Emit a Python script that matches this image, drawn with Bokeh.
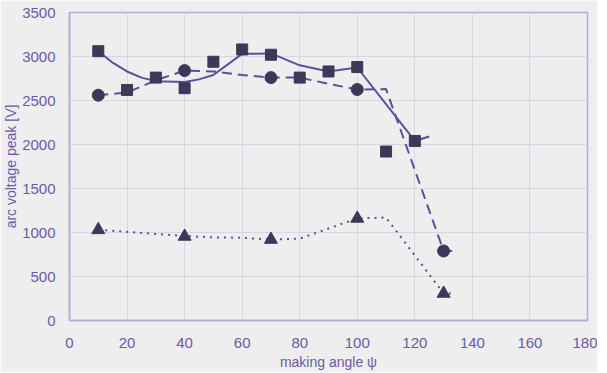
from bokeh.plotting import figure
from bokeh.embed import file_html
from bokeh.resources import INLINE
from bokeh.models import FixedTicker

# measured points
sq_x = [10, 20, 30, 40, 50, 60, 70, 80, 90, 100, 110, 120]
sq_y = [3060, 2620, 2760, 2640, 2940, 3080, 3020, 2760, 2830, 2880, 1920, 2040]
ci_x = [10, 40, 70, 100, 130]
ci_y = [2560, 2840, 2760, 2625, 790]
tr_x = [10, 40, 70, 100, 130]
tr_y = [1030, 955, 920, 1160, 307]

# trend lines
sq_trend_x = [10, 15, 20, 25, 30, 40, 45, 50, 60, 70, 80, 90, 100, 120, 125]
sq_trend_y = [3060, 2930, 2830, 2760, 2720, 2710, 2740, 2790, 3030, 3035, 2900, 2830, 2875, 2040, 2090]
ci_trend_x = [10, 20, 30, 40, 50, 60, 70, 80, 90, 100, 110, 130, 134]
ci_trend_y = [2560, 2590, 2730, 2840, 2830, 2790, 2760, 2760, 2690, 2625, 2630, 790, 790]
tr_trend_x = [10, 40, 50, 60, 70, 80, 90, 100, 110, 130, 134]
tr_trend_y = [1030, 960, 945, 940, 920, 930, 1045, 1160, 1170, 307, 307]

x_ticks = [0, 20, 40, 60, 80, 100, 120, 140, 160, 180]
y_ticks = [0, 500, 1000, 1500, 2000, 2500, 3000, 3500]

BG = "#eeeeee"
TXT = "#6a5aa8"
LINE = "#5b4f9a"
MARK = "#3c3858"

p = figure(frame_width=518, frame_height=308, output_backend="svg", toolbar_location=None,
           x_range=(0, 180), y_range=(0, 3500),
           min_border_left=65, min_border_right=10, min_border_top=12, min_border_bottom=40)
p.background_fill_color = BG
p.border_fill_color = BG
p.outline_line_color = "#b4acd4"
p.outline_line_width = 1.5

p.xaxis.ticker = FixedTicker(ticks=x_ticks)
p.yaxis.ticker = FixedTicker(ticks=y_ticks)
for ax in (p.xaxis, p.yaxis):
    ax.major_tick_line_color = None
    ax.minor_tick_line_color = None
    ax.axis_line_color = "#b4acd4"
    ax.axis_line_width = 1.5
    ax.major_label_text_color = TXT
    ax.major_label_text_font = "Liberation Sans"
    ax.major_label_text_font_size = "15px"
    ax.axis_label_text_color = TXT
    ax.axis_label_text_font = "Liberation Sans"
    ax.axis_label_text_font_size = "14px"
    ax.axis_label_text_font_style = "normal"
p.xaxis.major_label_standoff = 11
p.yaxis.major_label_standoff = 8
p.xaxis.axis_label = "making angle ψ"
p.yaxis.axis_label = "arc voltage peak [V]"
p.xaxis.axis_label_standoff = 3
p.yaxis.axis_label_standoff = 0

p.xgrid.grid_line_color = "#d8d5e4"
p.ygrid.grid_line_color = "#d8d5e4"
p.xgrid.grid_line_width = 1
p.ygrid.grid_line_width = 1

p.line(sq_trend_x, sq_trend_y, line_color=LINE, line_width=2)
p.line(ci_trend_x, ci_trend_y, line_color=LINE, line_width=2, line_dash="10 6")
p.line(tr_trend_x, tr_trend_y, line_color=LINE, line_width=2, line_dash="2 5")

p.scatter(sq_x, sq_y, marker="square", size=11, color=MARK)
p.scatter(ci_x, ci_y, marker="circle", size=12, color=MARK)
p.scatter(tr_x, tr_y, marker="triangle", size=13, color=MARK)

open("out.html", "w").write(file_html(p, INLINE))
